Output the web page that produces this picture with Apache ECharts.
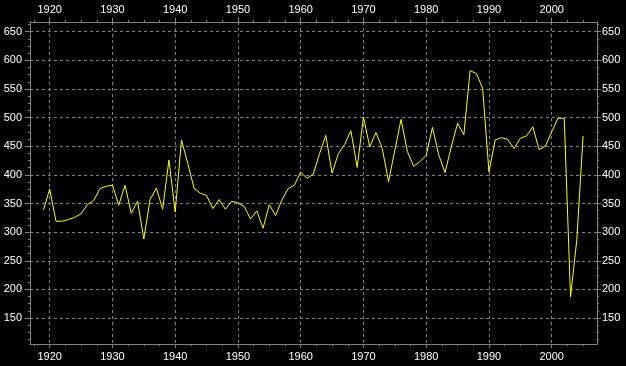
<!DOCTYPE html>
<html lang="en">
<head>
    <meta charset="UTF-8">
    <title>Yearly series</title>
    <style>
        * {
            margin: 0;
            padding: 0;
        }
        body {
            background: #000;
        }
        .mychart {
            width: 626px;
            height: 366px;
        }
    </style>
</head>
<body>
    <div class="mychart"></div>
</body>
<script src="https://cdn.jsdelivr.net/npm/echarts@6/dist/echarts.min.js"></script>
<script>
    // data, one value per year
    const firstYear = 1919
    const values = [
        339, 375, 319, 319, 322, 326, 332, 348, 355, 376,
        380, 382, 347, 382, 333, 354, 288, 357, 377, 340,
        426, 335, 461, 420, 377, 368, 364, 341, 357, 340,
        354, 351, 345, 323, 337, 307, 348, 329, 356, 376,
        382, 405, 394, 401, 437, 469, 403, 437, 453, 477,
        413, 501, 449, 474, 446, 388, 443, 497, 441, 415,
        423, 434, 483, 435, 404, 449, 490, 470, 582, 577,
        551, 405, 461, 465, 462, 446, 464, 468, 484, 444,
        450, 475, 499, 499, 187, 286, 468
    ]
    const years = values.map((v, i) => firstYear + i)

    // tick labels
    const yearTicks = [1920, 1930, 1940, 1950, 1960, 1970, 1980, 1990, 2000]
    const valueTicks = [150, 200, 250, 300, 350, 400, 450, 500, 550, 600, 650]

    const xMin = 1916.86, xMax = 2007.22
    const yMin = 104.6, yMax = 667

    // minor ticks: 4 steps between labelled ticks
    function minorOf(major, step, lo, hi) {
        const out = []
        for (let v = major[0] - step * 4; v <= major[major.length - 1] + step * 4; v += step) {
            if (v > lo && v < hi && major.indexOf(v) < 0) out.push(v)
        }
        return out
    }
    const yearMinor = minorOf(yearTicks, 2.5, xMin, xMax)
    const valueMinor = minorOf(valueTicks, 12.5, yMin, yMax)

    const gray = '#808080'
    const font = { color: '#fff', fontSize: 11, fontFamily: 'Liberation Sans', formatter: v => String(v) }
    const gridBox = { left: 30, right: 29, top: 22, bottom: 22 }

    function xAx(gridIndex, position, ticks, len, labels, split) {
        return {
            type: 'value', gridIndex: gridIndex, position: position,
            min: xMin, max: xMax,
            axisLine: { show: true, lineStyle: { color: gray } },
            axisTick: { show: true, length: len, customValues: ticks, lineStyle: { color: gray } },
            axisLabel: labels ? Object.assign({ show: true, margin: 7, customValues: ticks }, font) : { show: false },
            splitLine: { show: split, lineStyle: { color: gray, type: [3, 3] } },
            minorTick: { show: false }
        }
    }
    function yAx(gridIndex, position, ticks, len, labels, split, margin) {
        return {
            type: 'value', gridIndex: gridIndex, position: position,
            min: yMin, max: yMax,
            axisLine: { show: true, lineStyle: { color: gray } },
            axisTick: { show: true, length: len, customValues: ticks, lineStyle: { color: gray } },
            axisLabel: labels ? Object.assign({ show: true, margin: margin, customValues: ticks }, font) : { show: false },
            splitLine: { show: split, lineStyle: { color: gray, type: [3, 3] } },
            minorTick: { show: false }
        }
    }

    const myChart = echarts.init(document.querySelector('.mychart'))

    const config = {
        backgroundColor: '#000',
        animation: false,
        grid: [
            Object.assign({}, gridBox),
            Object.assign({}, gridBox)
        ],
        xAxis: [
            xAx(0, 'bottom', yearTicks, 4, true, true),
            xAx(0, 'top', yearTicks, 4, true, false),
            xAx(1, 'bottom', yearMinor, 2, false, false),
            xAx(1, 'top', yearMinor, 2, false, false)
        ],
        yAxis: [
            yAx(0, 'left', valueTicks, 5, true, true, 8),
            yAx(0, 'right', valueTicks, 4, true, false, 5),
            yAx(1, 'left', valueMinor, 2, false, false, 0),
            yAx(1, 'right', valueMinor, 2, false, false, 0)
        ],
        series: [{
            type: 'line',
            xAxisIndex: 0,
            yAxisIndex: 0,
            data: years.map((y, i) => [y, values[i]]),
            symbol: 'none',
            z: 5,
            lineStyle: { color: '#ffff00', width: 1 }
        }]
    }

    myChart.setOption(config)
</script>
</html>
